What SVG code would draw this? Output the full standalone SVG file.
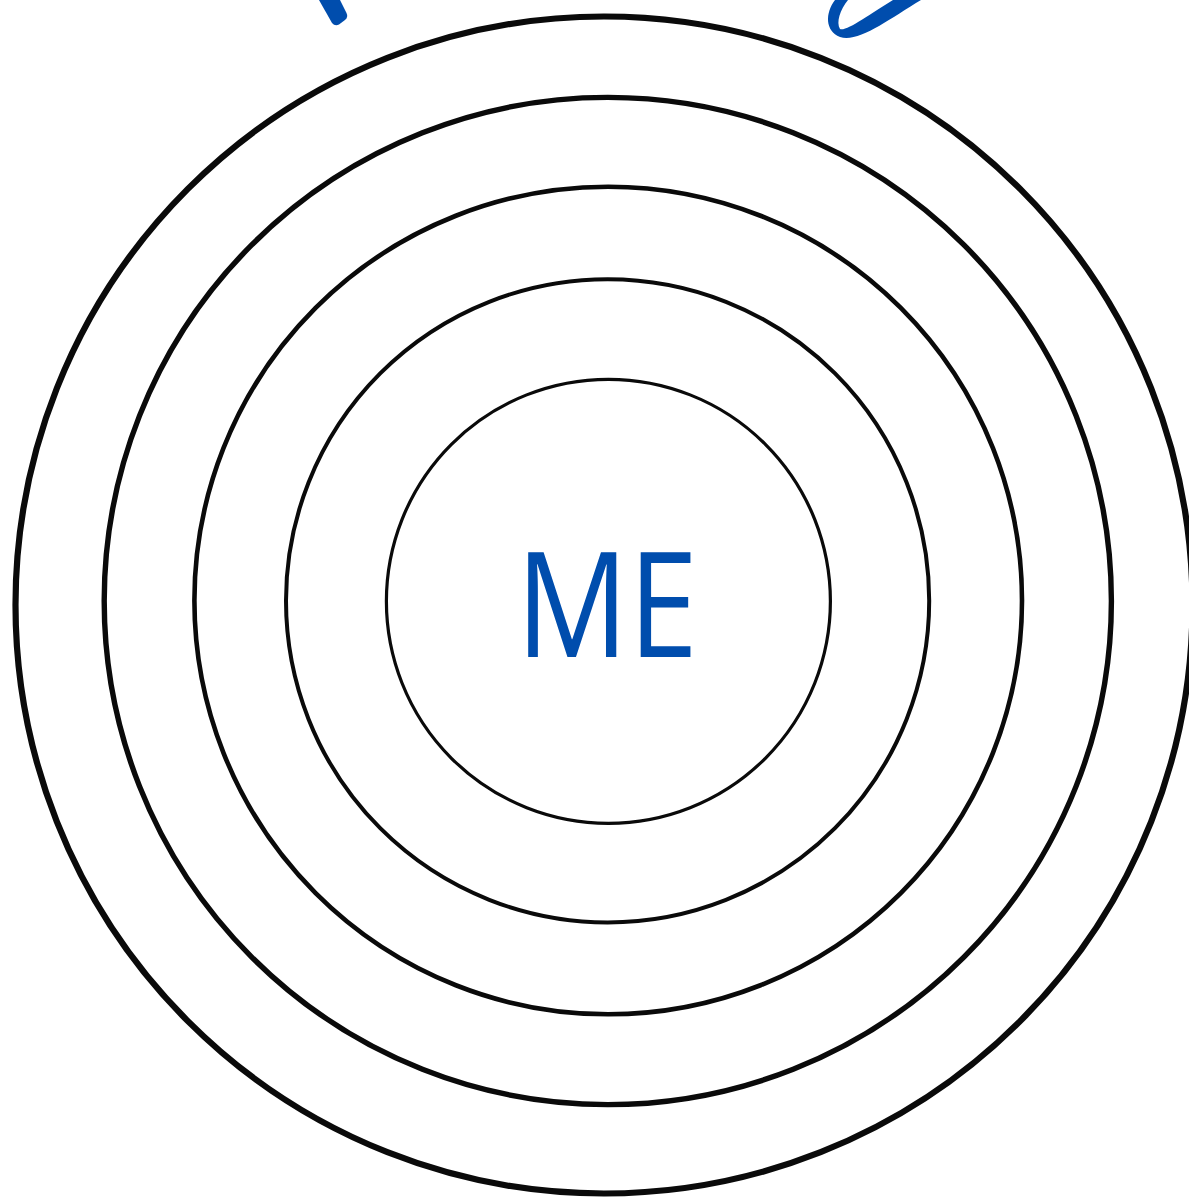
<svg xmlns="http://www.w3.org/2000/svg" width="1189" height="1199" viewBox="0 0 1189 1199">
  <style>
    .ring { fill: none; stroke: #0a0a0a; }
    .frag { fill: #004DAD; fill-rule: evenodd; }
    .label { font-family: "Open Sans", "Noto Sans", "Liberation Sans", sans-serif; font-weight: 400; fill: #004DAD; }
  </style>
  <rect width="1189" height="1199" fill="#ffffff"/>
  <g id="title-fragments">
    <path class="frag" d="M 319 0 L 332 23 Q 335 26.5 339 24.5 L 345 20 Q 348.5 17 346.5 13 L 340 0 Z"/>
    <path class="frag" d="M 835 0 C 825 13 825 31 840 37 C 858 43 888 20 921 0 Z M 848 0 C 840 10 836 22 840 29 C 846 32 870 14 893 0 Z"/>
  </g>
  <g id="ring5"><circle class="ring" cx="604" cy="605" r="588.5" stroke-width="6.2"/></g>
  <g id="ring4"><circle class="ring" cx="607.8" cy="601" r="503.6" stroke-width="5.4"/></g>
  <g id="ring3"><circle class="ring" cx="608.2" cy="600.5" r="413.8" stroke-width="4.6"/></g>
  <g id="ring2"><circle class="ring" cx="607.6" cy="600.8" r="321.6" stroke-width="4"/></g>
  <g id="ring1"><circle class="ring" cx="608.4" cy="601.3" r="222" stroke-width="3.2"/></g>
  <g id="me">
    <text class="label" x="607" y="657" font-size="146" text-anchor="middle" textLength="182" lengthAdjust="spacingAndGlyphs">ME</text>
  </g>
  <g id="connectors"></g>
</svg>
